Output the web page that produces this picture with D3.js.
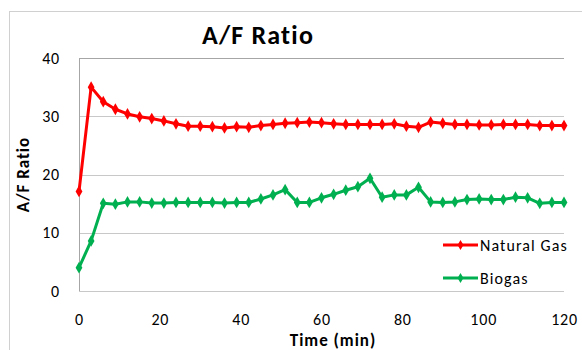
<!DOCTYPE html>
<html lang="en">
<head>
  <meta charset="UTF-8" />
  <title>A/F Ratio</title>
  <style>
    body { margin: 0; background: #fff; }
    text { font-family: Calibri, Carlito, Lato, sans-serif; fill: #000; }
  </style>
  <script src="https://d3js.org/d3.v7.min.js"></script>
</head>
<body>
  <script>
    // time in minutes, one reading every 3 min
    const minutes = [0, 3, 6, 9, 12, 15, 18, 21, 24, 27, 30, 33, 36, 39, 42, 45, 48, 51, 54, 57,
      60, 63, 66, 69, 72, 75, 78, 81, 84, 87, 90, 93, 96, 99, 102, 105, 108, 111, 114, 117, 120];

    const naturalGas = [17.1, 35.0, 32.5, 31.2, 30.4, 29.9, 29.6, 29.2, 28.7, 28.3, 28.3, 28.2, 28.0, 28.2,
      28.1, 28.4, 28.6, 28.8, 28.9, 29.0, 28.9, 28.7, 28.6, 28.6, 28.6, 28.6, 28.7, 28.3, 28.1, 29.0,
      28.8, 28.6, 28.6, 28.5, 28.5, 28.6, 28.6, 28.6, 28.4, 28.4, 28.4];

    const biogas = [4.0, 8.6, 15.05, 14.9, 15.3, 15.3, 15.1, 15.1, 15.2, 15.2, 15.2, 15.2, 15.1, 15.2,
      15.2, 15.8, 16.5, 17.4, 15.2, 15.2, 16.0, 16.6, 17.3, 17.9, 19.35, 16.1, 16.5, 16.5, 17.8, 15.3,
      15.2, 15.3, 15.7, 15.8, 15.7, 15.7, 16.1, 16.0, 15.05, 15.2, 15.2];

    const xTicks = [0, 20, 40, 60, 80, 100, 120];
    const yTicks = [0, 10, 20, 30, 40];

    const series = [
      { name: "Natural Gas", values: naturalGas, color: "#ff0000" },
      { name: "Biogas", values: biogas, color: "#00b050" }
    ];

    const W = 582, H = 350;
    const margin = { top: 58, right: 18, bottom: 59, left: 79 };
    const width = W - margin.left - margin.right;
    const height = H - margin.top - margin.bottom;

    const root = d3.select("body").append("svg")
      .attr("width", W)
      .attr("height", H);

    // chart area border
    root.append("rect")
      .attr("x", 9.5).attr("y", 11.5)
      .attr("width", 600).attr("height", 360)
      .attr("fill", "#fff")
      .attr("stroke", "#d0d0d0");

    root.append("text")
      .attr("x", 258).attr("y", 44)
      .attr("text-anchor", "middle")
      .attr("font-size", 26)
      .attr("font-weight", "bold")
      .attr("letter-spacing", 1.2)
      .text("A/F Ratio");

    const svg = root.append("g")
      .attr("transform", "translate(" + margin.left + "," + margin.top + ")");

    const x = d3.scaleLinear().domain([0, 120]).range([0, width]);
    const y = d3.scaleLinear().domain([0, 40]).range([height, 0]);

    // gridlines
    svg.append("g")
      .selectAll("line")
      .data(yTicks)
      .enter()
      .append("line")
      .attr("x1", 0).attr("x2", width)
      .attr("y1", d => Math.round(y(d)) + 0.5)
      .attr("y2", d => Math.round(y(d)) + 0.5)
      .attr("stroke", d => d === 40 ? "#a6a6a6" : "#c8c8c8");

    // left axis line
    svg.append("line")
      .attr("x1", 0.5).attr("x2", 0.5)
      .attr("y1", 0).attr("y2", height)
      .attr("stroke", "#a6a6a6");

    const yAxis = d3.axisLeft(y).tickValues(yTicks).tickSize(0).tickPadding(19);
    svg.append("g")
      .call(yAxis)
      .call(g => g.select(".domain").remove())
      .selectAll("text")
      .attr("font-size", 16)
      .attr("letter-spacing", 0.8)
      .style("font-family", "Calibri, Carlito, Lato, sans-serif");

    const xAxis = d3.axisBottom(x).tickValues(xTicks).tickSize(0).tickPadding(23);
    svg.append("g")
      .attr("transform", "translate(0," + height + ")")
      .call(xAxis)
      .call(g => g.select(".domain").remove())
      .selectAll("text")
      .attr("font-size", 16)
      .attr("letter-spacing", 0.8)
      .style("font-family", "Calibri, Carlito, Lato, sans-serif");

    root.append("text")
      .attr("transform", "translate(29," + (margin.top + height / 2) + ") rotate(-90)")
      .attr("text-anchor", "middle")
      .attr("font-size", 17)
      .attr("font-weight", "bold")
      .attr("letter-spacing", 1)
      .text("A/F Ratio");

    root.append("text")
      .attr("x", 333).attr("y", 346)
      .attr("text-anchor", "middle")
      .attr("font-size", 17)
      .attr("font-weight", "bold")
      .attr("letter-spacing", 1)
      .text("Time (min)");

    const line = d3.line()
      .x((d, i) => x(minutes[i]))
      .y(d => y(d));

    const diamond = d3.symbol().type(d3.symbolDiamond).size(40);

    series.forEach(s => {
      svg.append("path")
        .datum(s.values)
        .attr("d", line)
        .attr("fill", "none")
        .attr("stroke", s.color)
        .attr("stroke-width", 3)
        .attr("stroke-linejoin", "round");

      svg.append("g")
        .selectAll("path")
        .data(s.values)
        .enter()
        .append("path")
        .attr("d", diamond)
        .attr("transform", (d, i) => "translate(" + x(minutes[i]) + "," + y(d) + ")")
        .attr("fill", s.color);
    });

    // legend
    const legend = root.append("g");
    series.forEach((s, i) => {
      const ly = 245 + i * 33;
      legend.append("line")
        .attr("x1", 443).attr("x2", 478)
        .attr("y1", ly).attr("y2", ly)
        .attr("stroke", s.color)
        .attr("stroke-width", 3);
      legend.append("path")
        .attr("d", d3.symbol().type(d3.symbolDiamond).size(30))
        .attr("transform", "translate(460.5," + ly + ")")
        .attr("fill", s.color);
      legend.append("text")
        .attr("x", 480).attr("y", ly)
        .attr("dy", "0.35em")
        .attr("font-size", 16)
        .attr("letter-spacing", 1.1)
        .text(s.name);
    });
  </script>
</body>
</html>
